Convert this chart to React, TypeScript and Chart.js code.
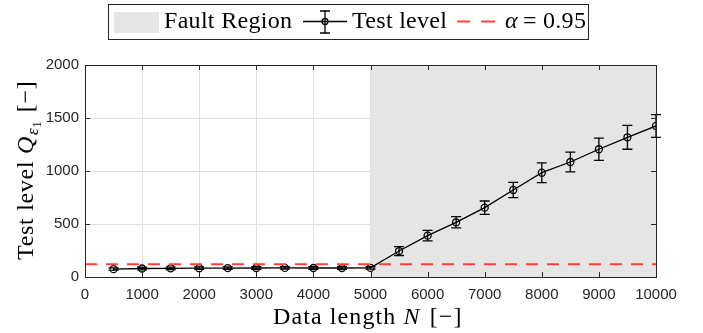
import React, { useEffect, useRef } from "react";
import { Chart, registerables } from "chart.js";

Chart.register(...registerables);

const dataLengths = [500, 1000, 1500, 2000, 2500, 3000, 3500, 4000, 4500, 5000, 5500, 6000, 6500, 7000, 7500, 8000, 8500, 9000, 9500, 10000];
const testLevel = [74, 80, 82, 83, 84, 85, 86, 85, 85, 86, 245, 390, 516, 654, 821, 984, 1085, 1205, 1318, 1425];
const testLevelError = [12, 12, 12, 12, 12, 12, 12, 12, 12, 12, 42, 49, 53, 63, 72, 93, 94, 105, 113, 107];
const thresholdValue = 120;
const faultRegion = [5000, 10000];
const xTickValues = [0, 1000, 2000, 3000, 4000, 5000, 6000, 7000, 8000, 9000, 10000];
const yTickValues = [0, 500, 1000, 1500, 2000];
const legendLabels = ["Fault Region", "Test level", "α", "=", "0.95"];

const SERIF = '"Liberation Serif", "Times New Roman", serif';
const SANS = '"Liberation Sans", Arial, sans-serif';
const AXIS_COLOR = "#262626";

function setSpacing(ctx: any, px: number) {
  try {
    ctx.letterSpacing = `${px}px`;
  } catch (e) {
    /* ignore */
  }
}

const customPlugin = {
  id: "custom",
  beforeDatasetsDraw(chart: any) {
    const { ctx, chartArea: a, scales } = chart;
    const x = scales.x;
    const y = scales.y;
    ctx.save();
    const x0 = x.getPixelForValue(faultRegion[0]);
    const x1 = x.getPixelForValue(faultRegion[1]);
    ctx.fillStyle = "#e5e5e5";
    ctx.fillRect(x0, a.top, x1 - x0, a.bottom - a.top);

    ctx.strokeStyle = "#000";
    ctx.lineWidth = 1.3;
    dataLengths.forEach((n, i) => {
      const px = x.getPixelForValue(n);
      const yt = y.getPixelForValue(testLevel[i] + testLevelError[i]);
      const yb = y.getPixelForValue(testLevel[i] - testLevelError[i]);
      ctx.beginPath();
      ctx.moveTo(px, yt);
      ctx.lineTo(px, yb);
      ctx.moveTo(px - 5, yt);
      ctx.lineTo(px + 5, yt);
      ctx.moveTo(px - 5, yb);
      ctx.lineTo(px + 5, yb);
      ctx.stroke();
    });
    ctx.restore();
  },
  afterDraw(chart: any) {
    const { ctx, chartArea: a, scales } = chart;
    const x = scales.x;
    const y = scales.y;
    ctx.save();
    // box
    ctx.strokeStyle = AXIS_COLOR;
    ctx.lineWidth = 1;
    ctx.strokeRect(Math.round(a.left) + 0.5, Math.round(a.top) + 0.5, Math.round(a.right - a.left), Math.round(a.bottom - a.top));
    // inward ticks
    ctx.beginPath();
    xTickValues.forEach((v) => {
      const px = Math.round(x.getPixelForValue(v)) + 0.5;
      ctx.moveTo(px, a.bottom);
      ctx.lineTo(px, a.bottom - 5);
      ctx.moveTo(px, a.top);
      ctx.lineTo(px, a.top + 5);
    });
    yTickValues.forEach((v) => {
      const py = Math.round(y.getPixelForValue(v)) + 0.5;
      ctx.moveTo(a.left, py);
      ctx.lineTo(a.left + 5, py);
      ctx.moveTo(a.right, py);
      ctx.lineTo(a.right - 5, py);
    });
    ctx.stroke();

    // x title
    ctx.fillStyle = "#000";
    ctx.textBaseline = "alphabetic";
    ctx.textAlign = "left";
    const fN = `24px ${SERIF}`;
    const fI = `italic 24px ${SERIF}`;
    setSpacing(ctx, 1.1);
    ctx.font = fN;
    const p1 = "Data length ";
    const w1 = ctx.measureText(p1).width;
    ctx.font = fI;
    const w2 = ctx.measureText("N").width;
    const p3 = " [−]";
    let cx = 273;
    const by = 324;
    ctx.font = fN;
    ctx.fillText(p1, cx, by);
    cx += w1;
    ctx.font = fI;
    ctx.fillText("N", cx, by);
    cx += w2 + 2;
    ctx.font = fN;
    ctx.fillText(p3, cx, by);

    // y title
    setSpacing(ctx, 0.7);
    ctx.save();
    ctx.translate(33, 260);
    ctx.rotate(-Math.PI / 2);
    let tx = 0;
    ctx.font = fN;
    ctx.fillText("Test level ", tx, 0);
    tx += ctx.measureText("Test level ").width;
    ctx.font = fI;
    ctx.fillText("Q", tx, 0);
    tx += ctx.measureText("Q").width + 1;
    ctx.font = `italic 17px ${SERIF}`;
    ctx.fillText("ε", tx, 5);
    tx += ctx.measureText("ε").width;
    ctx.font = `12px ${SERIF}`;
    ctx.fillText("1", tx, 8);
    tx += ctx.measureText("1").width + 2;
    ctx.font = fN;
    ctx.fillText(" [−]", tx, 0);
    ctx.restore();

    // legend
    setSpacing(ctx, 0.3);
    ctx.fillStyle = "#fff";
    ctx.fillRect(108.5, 4.5, 480, 35);
    ctx.strokeStyle = AXIS_COLOR;
    ctx.lineWidth = 1;
    ctx.strokeRect(108.5, 4.5, 480, 35);
    ctx.fillStyle = "#e5e5e5";
    ctx.fillRect(114, 12, 45, 21);
    ctx.fillStyle = "#000";
    ctx.font = fN;
    ctx.fillText(legendLabels[0], 164, 28);
    // errorbar symbol
    ctx.strokeStyle = "#000";
    ctx.lineWidth = 1.3;
    ctx.beginPath();
    ctx.moveTo(303, 21.5);
    ctx.lineTo(347, 21.5);
    ctx.moveTo(325, 11);
    ctx.lineTo(325, 33);
    ctx.moveTo(320, 11);
    ctx.lineTo(330, 11);
    ctx.moveTo(320, 33);
    ctx.lineTo(330, 33);
    ctx.stroke();
    ctx.beginPath();
    ctx.arc(325, 21.5, 3, 0, Math.PI * 2);
    ctx.stroke();
    ctx.fillText(legendLabels[1], 352, 28);
    // dashes
    ctx.strokeStyle = "rgb(255,64,64)";
    ctx.lineWidth = 2;
    ctx.beginPath();
    ctx.moveTo(457, 21.5);
    ctx.lineTo(470, 21.5);
    ctx.moveTo(481, 21.5);
    ctx.lineTo(495, 21.5);
    ctx.stroke();
    ctx.font = fI;
    ctx.fillText(legendLabels[2], 505, 28);
    ctx.font = fN;
    ctx.fillText(legendLabels[3], 523, 28);
    ctx.fillText(legendLabels[4], 543, 28);
    setSpacing(ctx, 0);
    ctx.restore();
  },
};

export default function App() {
  const ref = useRef<HTMLCanvasElement | null>(null);
  useEffect(() => {
    if (!ref.current) return;
    const chart = new Chart(ref.current, {
      type: "line",
      data: {
        datasets: [
          {
            label: "threshold",
            data: [
              { x: 0, y: thresholdValue },
              { x: 10000, y: thresholdValue },
            ],
            borderColor: "rgb(255,64,64)",
            borderWidth: 2,
            borderDash: [12, 9],
            pointRadius: 0,
            fill: false,
          },
          {
            label: "Test level",
            data: dataLengths.map((n, i) => ({ x: n, y: testLevel[i] })),
            borderColor: "#000",
            borderWidth: 1.3,
            pointRadius: 3.5,
            pointStyle: "circle",
            pointBorderColor: "#000",
            pointBackgroundColor: "rgba(0,0,0,0)",
            pointBorderWidth: 1.3,
            fill: false,
          },
        ],
      },
      options: {
        animation: false,
        responsive: true,
        maintainAspectRatio: false,
        layout: { padding: { top: 65, right: 47, left: 0, bottom: 0 } },
        plugins: { legend: { display: false }, tooltip: { enabled: false } },
        scales: {
          x: {
            type: "linear",
            min: 0,
            max: 10000,
            afterBuildTicks: (s: any) => {
              s.ticks = xTickValues.map((v) => ({ value: v }));
            },
            ticks: {
              font: { family: SANS, size: 15 },
              color: AXIS_COLOR,
              padding: 9,
              maxRotation: 0,
              autoSkip: false,
              callback: (v: any) => String(v),
            },
            grid: { color: "#dedede", drawTicks: false, lineWidth: 1 },
            border: { display: false },
            afterFit: (s: any) => {
              s.height = 56;
            },
          },
          y: {
            type: "linear",
            min: 0,
            max: 2000,
            afterBuildTicks: (s: any) => {
              s.ticks = yTickValues.map((v) => ({ value: v }));
            },
            ticks: {
              font: { family: SANS, size: 15 },
              color: AXIS_COLOR,
              padding: 6,
              callback: (v: any) => String(v),
            },
            grid: { color: "#dedede", drawTicks: false, lineWidth: 1 },
            border: { display: false },
            afterFit: (s: any) => {
              s.width = 85;
            },
          },
        },
      },
      plugins: [customPlugin],
    });
    return () => chart.destroy();
  }, []);
  return (
    <div style={{ position: "absolute", left: 0, top: 0, width: 703, height: 333, background: "#fff" }}>
      <canvas ref={ref} />
    </div>
  );
}
